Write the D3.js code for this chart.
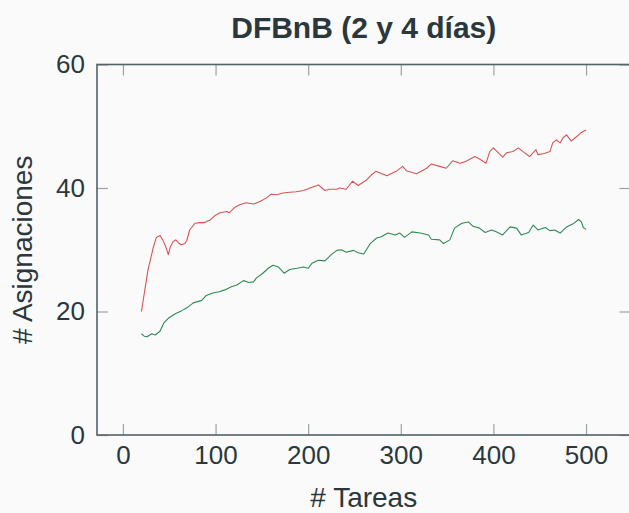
<!DOCTYPE html>
<html>
<head>
<meta charset="utf-8">
<script src="https://cdn.jsdelivr.net/npm/d3@7"></script>
<style>
  html, body { margin: 0; padding: 0; background: #fafafa; }
  svg { display: block; font-family: "Liberation Sans", Arial, sans-serif; }
  .axis path { stroke: #52636a; stroke-width: 1.6; }
  .axis line { stroke: #9aa3a6; stroke-width: 1.2; }
  .axis text { fill: #2a383d; font-size: 26px; }
</style>
</head>
<body>
<svg id="chart" width="629" height="513"></svg>
<script>
// Chart data
const title = 'DFBnB (2 y 4 días)';
const xTicks = [0, 100, 200, 300, 400, 500];
const yTicks = [0, 20, 40, 60];

// red series (upper)
const redX = [20, 27, 33, 36, 40, 43, 46, 49, 51, 54, 57, 60, 63, 67, 69, 72, 78, 83, 88, 94,
  99, 105, 112, 115, 121, 126, 133, 141, 148, 155, 160, 166, 173, 180, 187, 195, 202, 211, 218, 223,
  231, 234, 241, 248, 254, 263, 268, 273, 285, 295, 302, 306, 317, 328, 333, 342, 349, 356, 364, 370,
  380, 385, 392, 396, 400, 404, 410, 414, 421, 427, 432, 439, 446, 448, 455, 461, 464, 468, 472, 475,
  479, 484, 488, 492, 495, 500];
const redY = [20.0, 26.7, 30.5, 32.0, 32.3, 31.6, 30.6, 29.2, 30.4, 31.3, 31.6, 31.1, 30.8, 31.0, 31.5, 33.2, 34.3, 34.4, 34.4, 34.8,
  35.5, 36.0, 36.2, 36.0, 36.9, 37.3, 37.6, 37.4, 37.8, 38.4, 39.0, 38.9, 39.2, 39.3, 39.4, 39.6, 40.0, 40.5, 39.6, 39.8,
  39.8, 40.0, 39.8, 41.1, 40.4, 41.3, 42.1, 42.7, 42.0, 42.7, 43.5, 42.8, 42.3, 43.2, 43.9, 43.5, 43.2, 44.4, 44.0, 44.3,
  45.1, 44.7, 44.0, 45.9, 46.5, 45.9, 45.0, 45.7, 45.9, 46.5, 45.9, 45.1, 46.2, 45.4, 45.6, 45.9, 47.3, 47.8, 47.3, 48.1,
  48.6, 47.6, 48.1, 48.6, 49.0, 49.4];

// green series (lower)
const greenX = [20, 23, 26, 29, 31, 35, 40, 44, 49, 56, 63, 70, 76, 85, 90, 97, 104, 110, 117, 123,
  130, 136, 141, 144, 151, 157, 162, 168, 174, 180, 188, 195, 200, 204, 211, 218, 225, 231, 236, 241,
  249, 254, 260, 267, 274, 279, 286, 294, 299, 304, 312, 321, 330, 333, 342, 346, 353, 358, 366, 373,
  378, 385, 391, 398, 403, 410, 418, 425, 430, 438, 443, 448, 456, 461, 466, 472, 479, 486, 492, 495,
  497, 500];
const greenY = [16.4, 16.0, 15.9, 16.2, 16.4, 16.2, 16.8, 18.1, 18.9, 19.6, 20.1, 20.7, 21.4, 21.8, 22.6, 23.0, 23.2, 23.5, 24.0, 24.3,
  25.0, 24.7, 24.8, 25.4, 26.2, 27.0, 27.5, 27.2, 26.2, 26.8, 27.0, 27.2, 27.0, 27.8, 28.3, 28.2, 29.2, 29.9, 30.0, 29.6,
  29.9, 29.5, 29.3, 31.0, 31.9, 32.1, 32.7, 32.4, 32.7, 32.0, 32.9, 32.7, 32.4, 31.7, 31.6, 31.0, 31.6, 33.5, 34.3, 34.5,
  33.8, 33.5, 32.8, 33.2, 32.9, 32.4, 33.7, 33.5, 32.4, 32.8, 34.0, 33.2, 33.6, 33.1, 33.2, 32.7, 33.7, 34.2, 34.9, 34.5,
  33.6, 33.3];

const svg = d3.select('#chart');

// plot frame
const plotLeft = 97, plotRight = 630.5, plotTop = 64.5, plotBottom = 435;

const x = d3.scaleLinear().domain([-28, 548]).range([plotLeft, plotRight]);
const y = d3.scaleLinear().domain([0, 60]).range([plotBottom, plotTop]);

const tick = 11;

// bottom axis (labels) + top mirror
svg.append('g')
    .attr('class', 'axis')
    .attr('transform', `translate(0,${plotBottom})`)
    .call(d3.axisBottom(x).tickValues(xTicks).tickSizeInner(-tick).tickSizeOuter(0).tickPadding(11))
    .call(g => g.select('.domain').remove());

svg.append('g')
    .attr('class', 'axis')
    .attr('transform', `translate(0,${plotTop})`)
    .call(d3.axisTop(x).tickValues(xTicks).tickSizeInner(-tick).tickSizeOuter(0).tickFormat(''))
    .call(g => g.select('.domain').remove());

// left axis (labels) + right mirror
svg.append('g')
    .attr('class', 'axis')
    .attr('transform', `translate(${plotLeft},0)`)
    .call(d3.axisLeft(y).tickValues(yTicks).tickSizeInner(-tick).tickSizeOuter(0).tickPadding(12))
    .call(g => g.select('.domain').remove());

svg.append('g')
    .attr('class', 'axis')
    .attr('transform', `translate(${plotRight},0)`)
    .call(d3.axisRight(y).tickValues(yTicks).tickSizeInner(-tick).tickSizeOuter(0).tickFormat(''))
    .call(g => g.select('.domain').remove());

svg.append('rect')
    .attr('x', plotLeft).attr('y', plotTop)
    .attr('width', plotRight - plotLeft).attr('height', plotBottom - plotTop)
    .attr('fill', 'none')
    .attr('stroke', '#52636a')
    .attr('stroke-width', 1.6);

// series lines
const line = d3.line().x(d => x(d[0])).y(d => y(d[1]));

svg.append('path')
    .datum(redX.map((v, i) => [v, redY[i]]))
    .attr('d', line)
    .attr('fill', 'none')
    .attr('stroke', '#d65454')
    .attr('stroke-width', 1.1)
    .attr('stroke-linejoin', 'round');

svg.append('path')
    .datum(greenX.map((v, i) => [v, greenY[i]]))
    .attr('d', line)
    .attr('fill', 'none')
    .attr('stroke', '#2e8a55')
    .attr('stroke-width', 1.1)
    .attr('stroke-linejoin', 'round');

// titles
svg.append('text')
    .attr('x', (plotLeft + plotRight) / 2)
    .attr('y', 38)
    .attr('text-anchor', 'middle')
    .attr('font-size', 30)
    .attr('font-weight', 'bold')
    .attr('fill', '#2a383d')
    .text(title);

svg.append('text')
    .attr('x', (plotLeft + plotRight) / 2)
    .attr('y', 507)
    .attr('text-anchor', 'middle')
    .attr('font-size', 28)
    .attr('fill', '#2a383d')
    .text('# Tareas');

svg.append('text')
    .attr('transform', `translate(32,${(plotTop + plotBottom) / 2}) rotate(-90)`)
    .attr('text-anchor', 'middle')
    .attr('font-size', 28)
    .attr('fill', '#2a383d')
    .text('# Asignaciones');
</script>
</body>
</html>
